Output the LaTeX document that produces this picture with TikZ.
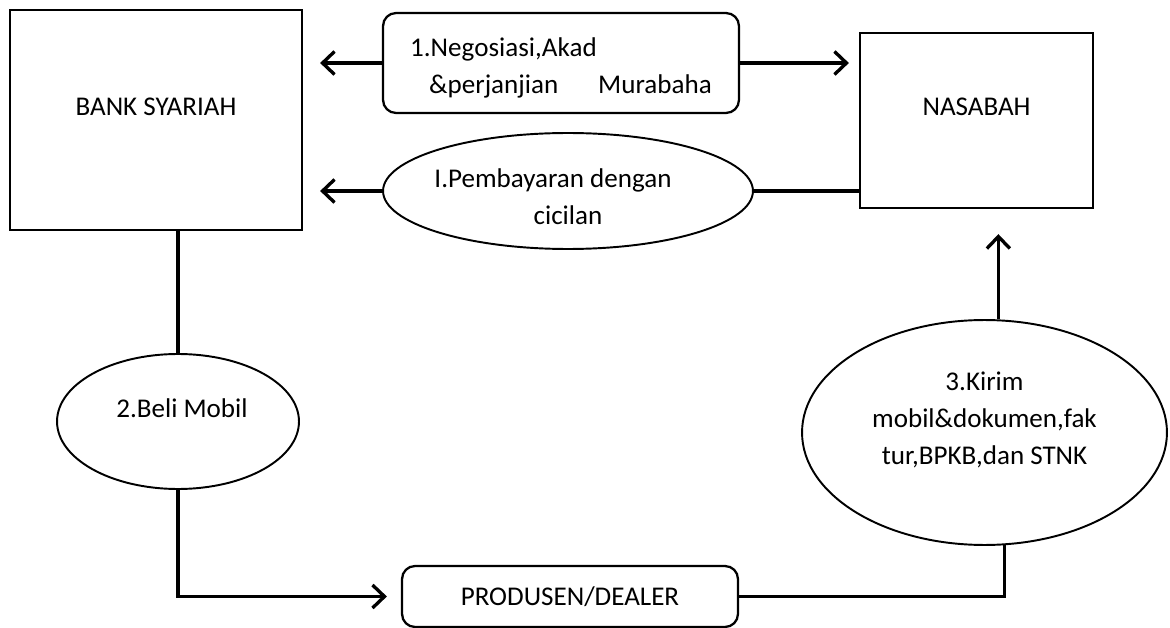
\documentclass[tikz,border=0pt]{standalone}
\usepackage{fontspec}
\setmainfont{Carlito}
\usetikzlibrary{shapes.geometric,arrows.meta}

\begin{document}
\begin{tikzpicture}[line width=1.9pt, x=0.02cm, y=-0.02cm,
  >={Straight Barb[length=2.4mm,width=4.6mm]},
  font=\fontsize{15.4}{21}\selectfont,
  kotak/.style={draw, line width=1.3pt, rectangle, inner sep=0pt},
  kotakbulat/.style={kotak, rounded corners=0.26cm},
  bulat/.style={draw, line width=1.1pt, ellipse, inner sep=0pt}]
\useasboundingbox (0,0) rectangle (1170,628);

% 两个主体
\node[kotak, minimum width=5.84cm, minimum height=4.4cm,
  label={[name=bankT, yshift=0.26cm]center:BANK SYARIAH}] (bank) at (156,120) {};
\node[kotak, minimum width=4.66cm, minimum height=3.5cm,
  label={[name=nasabahT, yshift=0.27cm]center:NASABAH}] (nasabah) at (976.5,120.5) {};

% 中间的步骤
\node[kotakbulat, minimum width=7.12cm, minimum height=2cm,
  label={[name=negoT, align=left, yshift=-0.1cm]center:{1.Negosiasi,Akad\\\hspace*{0.38cm}\&perjanjian\hspace{0.8cm}Murabaha}}] (nego) at (561,63) {};
\node[bulat, minimum width=7.4cm, minimum height=2.32cm,
  label={[name=bayarT, align=center, yshift=-0.12cm]center:{I.Pembayaran dengan\hspace*{0.6cm}\\cicilan}}] (bayar) at (568,191) {};
\node[bulat, minimum width=4.84cm, minimum height=2.7cm,
  label={[name=beliT, xshift=0.08cm, yshift=0.27cm]center:2.Beli Mobil}] (beli) at (178,421.5) {};
\node[kotakbulat, minimum width=6.72cm, minimum height=1.22cm] (produsen) at (570,596.5) {PRODUSEN/DEALER};
\node[bulat, minimum width=7.3cm, minimum height=4.5cm,
  label={[name=kirimT, align=center, yshift=0.25cm]center:{3.Kirim\\mobil\&dokumen,fak\\tur,BPKB,dan STNK}}] (kirim) at (984.5,432.5) {};

% 连线及箭头
\draw[->, shorten >=0.34cm] (nego.west) -- (nego.west -| bank.east);
\draw[->, shorten >=0.2cm] (nego.east) -- (nego.east -| nasabah.west);
\draw (nasabah.west |- bayar.east) -- (bayar.east);
\draw[->, shorten >=0.34cm] (bayar.west) -- (bayar.west -| bank.east);
\draw (bank.south -| beli.north) -- (beli.north);
\draw[->, shorten >=0.28cm] (beli.south) |- (produsen.west);
\draw (produsen.east) -| (kirim.-80);
\draw[->, shorten >=0.5cm] (kirim.83) -- (kirim.83 |- nasabah.south);
\end{tikzpicture}
\end{document}
